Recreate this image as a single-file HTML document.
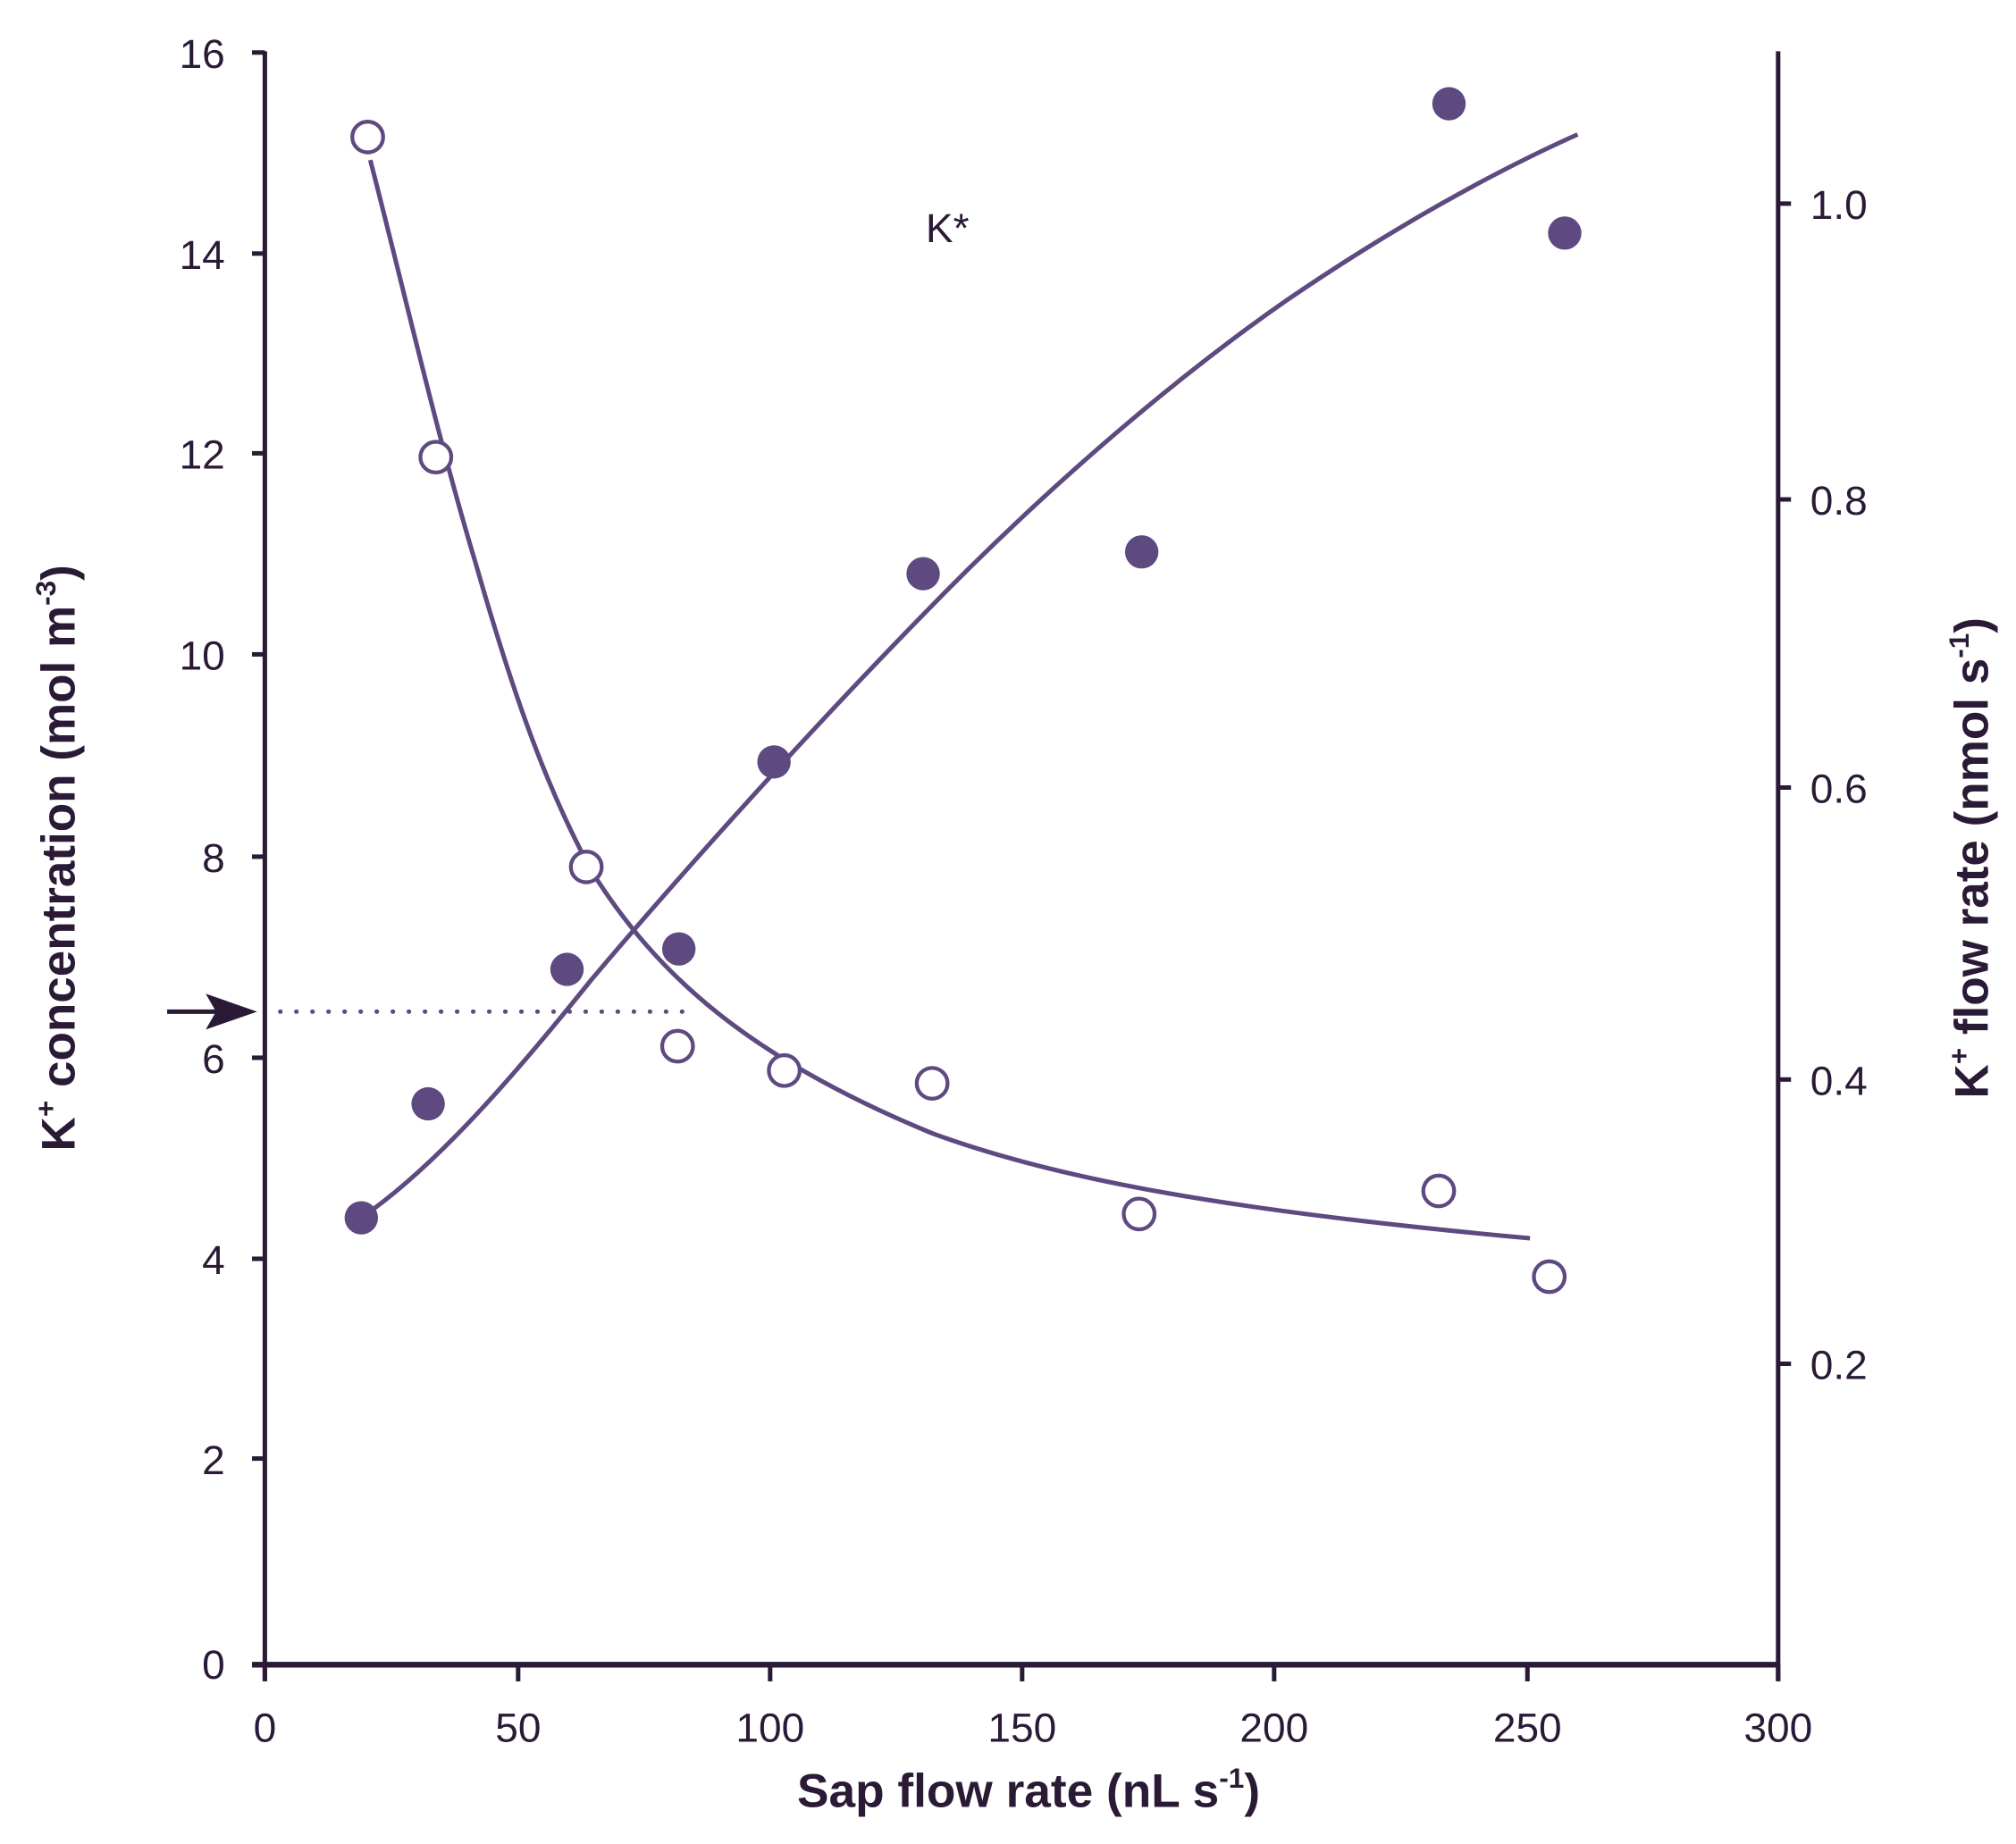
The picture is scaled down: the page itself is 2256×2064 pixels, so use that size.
<!DOCTYPE html>
<html><head><style>html,body{margin:0;padding:0;background:#fff}svg{display:block}</style></head>
<body>
<svg width="2256" height="2064" viewBox="0 0 1568 1440" preserveAspectRatio="none" xmlns="http://www.w3.org/2000/svg">
<g stroke="#2a1a35" stroke-width="3.5" fill="none">
<line x1="206" y1="40" x2="206" y2="1312"/>
<line x1="1383" y1="40" x2="1383" y2="1312"/>
<line x1="196" y1="1300" x2="1383" y2="1300" stroke-width="4.5"/>
<line x1="196" y1="41" x2="206" y2="41"/>
<line x1="196" y1="198" x2="206" y2="198"/>
<line x1="196" y1="354" x2="206" y2="354"/>
<line x1="196" y1="511" x2="206" y2="511"/>
<line x1="196" y1="669" x2="206" y2="669"/>
<line x1="196" y1="826" x2="206" y2="826"/>
<line x1="196" y1="983" x2="206" y2="983"/>
<line x1="196" y1="1139" x2="206" y2="1139"/>
<line x1="1383" y1="159" x2="1393" y2="159"/>
<line x1="1383" y1="390" x2="1393" y2="390"/>
<line x1="1383" y1="615" x2="1393" y2="615"/>
<line x1="1383" y1="843" x2="1393" y2="843"/>
<line x1="1383" y1="1065" x2="1393" y2="1065"/>
<line x1="206" y1="1300" x2="206" y2="1313"/>
<line x1="403" y1="1300" x2="403" y2="1313"/>
<line x1="599" y1="1300" x2="599" y2="1313"/>
<line x1="795" y1="1300" x2="795" y2="1313"/>
<line x1="991" y1="1300" x2="991" y2="1313"/>
<line x1="1188" y1="1300" x2="1188" y2="1313"/>
<line x1="1383" y1="1300" x2="1383" y2="1313"/>
</g>
<g font-family="Liberation Sans, sans-serif" font-size="32" fill="#2a1a35">
<g text-anchor="end">
<text x="175" y="53">16</text><text x="175" y="210">14</text><text x="175" y="366">12</text>
<text x="175" y="523">10</text><text x="175" y="681">8</text><text x="175" y="838">6</text>
<text x="175" y="995">4</text><text x="175" y="1151">2</text><text x="175" y="1311">0</text>
</g>
<text x="1408" y="171">1.0</text><text x="1408" y="402">0.8</text><text x="1408" y="627">0.6</text>
<text x="1408" y="855">0.4</text><text x="1408" y="1077">0.2</text>
<g text-anchor="middle">
<text x="206" y="1360">0</text><text x="403" y="1360">50</text><text x="599" y="1360">100</text>
<text x="795" y="1360">150</text><text x="991" y="1360">200</text><text x="1188" y="1360">250</text><text x="1383" y="1360">300</text>
</g>
<text x="720" y="189">K*</text>
<g font-weight="bold" font-size="37">
<text x="800" y="1411" text-anchor="middle">Sap flow rate (nL s<tspan font-size="22" dy="-15">-1</tspan><tspan dy="15">)</tspan></text>
<text transform="translate(58,670) rotate(-90)" text-anchor="middle">K<tspan font-size="22" dy="-15">+</tspan><tspan dy="15"> concentration (mol m</tspan><tspan font-size="22" dy="-15">-3</tspan><tspan dy="15">)</tspan></text>
<text transform="translate(1546,670) rotate(-90)" text-anchor="middle">K<tspan font-size="22" dy="-15">+</tspan><tspan dy="15"> flow rate (nmol s</tspan><tspan font-size="22" dy="-15">-1</tspan><tspan dy="15">)</tspan></text>
</g>
</g>
<line x1="218" y1="790" x2="532" y2="790" stroke="#5e4a80" stroke-width="3.5" stroke-dasharray="0.1 12.4" stroke-linecap="round"/>
<line x1="130" y1="790" x2="180" y2="790" stroke="#2a1a35" stroke-width="3.5"/>
<polygon points="200,790 160,776 168,790 160,804" fill="#2a1a35"/>
<g stroke="#5e4a80" stroke-width="3.5" fill="none">
<path d="M281,951 C340,910 400,840 460,765 C540,670 640,560 718,480 C800,395 900,305 1000,235 C1080,180 1160,135 1227,105"/>
<path d="M288,125 C315,230 340,340 370,440 C400,545 425,615 460,680 C510,760 580,825 725,885 C820,920 950,945 1190,967"/>
</g>
<g fill="#5e4a80">
<circle cx="281" cy="951" r="13"/><circle cx="333" cy="862" r="13"/><circle cx="441" cy="757" r="13"/>
<circle cx="528" cy="741" r="13"/><circle cx="602" cy="595" r="13"/><circle cx="718" cy="448" r="13"/>
<circle cx="888" cy="431" r="13"/><circle cx="1127" cy="81" r="13"/><circle cx="1217" cy="182" r="13"/>
</g>
<g fill="#fff" stroke="#5e4a80" stroke-width="3">
<circle cx="286" cy="107" r="12"/><circle cx="339" cy="357" r="12"/><circle cx="456" cy="677" r="12"/>
<circle cx="527" cy="817" r="12"/><circle cx="610" cy="836" r="12"/><circle cx="725" cy="846" r="12"/>
<circle cx="886" cy="948" r="12"/><circle cx="1119" cy="930" r="12"/><circle cx="1205" cy="997" r="12"/>
</g>
</svg>
</body></html>
